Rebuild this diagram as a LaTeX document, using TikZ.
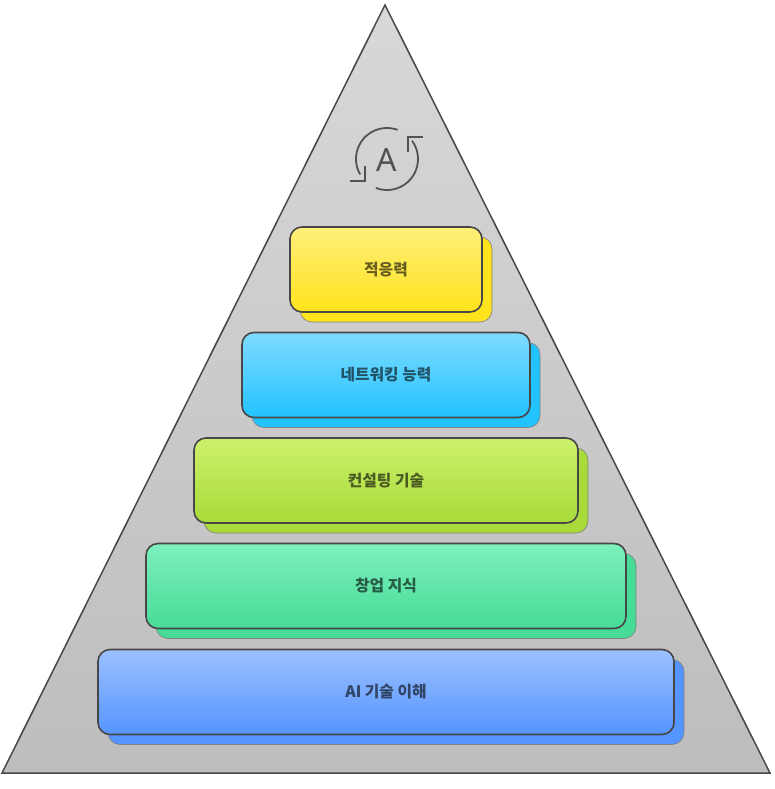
\documentclass[tikz,border=0pt]{standalone}
\usepackage{fontspec}
\setmainfont{Noto Sans CJK KR}
\newfontfamily\iconfont{Noto Sans}
\usepackage{tikz}

\definecolor{triTop}{HTML}{D8D8D8}
\definecolor{triBot}{HTML}{BDBDBD}
\definecolor{adaptTop}{HTML}{FFEF7A}
\definecolor{adaptBot}{HTML}{FFE31C}
\definecolor{netTop}{HTML}{7FDBFF}
\definecolor{netBot}{HTML}{22C3FF}
\definecolor{consTop}{HTML}{CDF06C}
\definecolor{consBot}{HTML}{A8DB3A}
\definecolor{startTop}{HTML}{7EF0BE}
\definecolor{startBot}{HTML}{46DB96}
\definecolor{aiTop}{HTML}{9CC0FF}
\definecolor{aiBot}{HTML}{5595FF}

\begin{document}
\begin{tikzpicture}[x=1pt, y=-1pt,
    layer/.style={rectangle, rounded corners=12pt, draw=black!72, line width=1.6pt, minimum height=85pt, text=black, text opacity=0.6, font=\bfseries\fontsize{15.8}{18}\selectfont},
    layerback/.style={rectangle, rounded corners=12pt, draw=black!50, line width=0.6pt, minimum height=85pt},
    icon/.style={draw=black!68, line width=1.8pt}]
    \useasboundingbox (0,0) rectangle (774,789);

    % pyramid
    \draw[draw=black!72, line width=1.5pt, top color=triTop, bottom color=triBot] (385,5) coordinate (apex) -- (2,773) coordinate (baseL) -- (770,773) coordinate (baseR) -- cycle;

    % icon
    \coordinate (iconC) at (387,159);
    \draw[icon] (iconC) ++(-70:31) arc[start angle=-70, end angle=-210, radius=31];
    \draw[icon] (iconC) ++(-249:31) arc[start angle=-249, end angle=-396, radius=31];
    \draw[icon] (350,181) -- (365,181) -- (365,166);
    \draw[icon] (423,137) -- (408,137) -- (408,152);
    \node[text=black!68, font=\iconfont\fontsize{32}{32}\selectfont] (iconA) at (387,160) {A};

    % layers
    \node[layerback, minimum width=192pt, fill=adaptBot] (adaptB) at (396,279.5) {};
    \node[layer, minimum width=192pt, top color=adaptTop, bottom color=adaptBot] (adapt) at (386,269.5) {적응력};

    \node[layerback, minimum width=288pt, fill=netBot] (netB) at (396,385) {};
    \node[layer, minimum width=288pt, top color=netTop, bottom color=netBot] (net) at (386,375) {네트워킹 능력};

    \node[layerback, minimum width=384pt, fill=consBot] (consB) at (396,490.5) {};
    \node[layer, minimum width=384pt, top color=consTop, bottom color=consBot] (cons) at (386,480.5) {컨설팅 기술};

    \node[layerback, minimum width=480pt, fill=startBot] (startB) at (396,596) {};
    \node[layer, minimum width=480pt, top color=startTop, bottom color=startBot] (start) at (386,586) {창업 지식};

    \node[layerback, minimum width=576pt, fill=aiBot] (aiB) at (396,702) {};
    \node[layer, minimum width=576pt, top color=aiTop, bottom color=aiBot] (ai) at (386,692) {AI 기술 이해};
\end{tikzpicture}
\end{document}
